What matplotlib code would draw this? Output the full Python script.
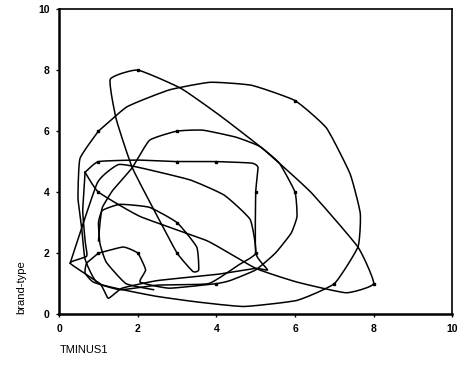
import numpy as np
import matplotlib
matplotlib.use("Agg")
import matplotlib.pyplot as plt

plt.rcParams['font.family'] = 'Liberation Sans'

# path pieces (TMINUS1, brand-type)
outer_x = [1, 1.73, 2.8, 3.84, 4.9, 6, 6.8, 7.4, 7.66, 7.6, 7, 6.05, 4.7, 3.5, 2.4, 1.0, 0.66, 0.58, 0.48, 0.53, 1]
outer_y = [6, 6.8, 7.35, 7.6, 7.5, 7, 6.1, 4.6, 3.3, 2.2, 1, 0.45, 0.25, 0.4, 0.6, 1.0, 1.8, 2.75, 3.8, 5.1, 6]

diag_x = [0.66, 1, 2.06, 3.77, 5.0, 6.05, 7.3, 8, 7.6, 6.4, 5.2, 4.1, 3.1, 2, 1.3, 1.45, 1.86, 2.5, 3, 3.4, 3.55, 3.5, 3, 2.3, 1.55, 1.1, 1, 1.04, 1.2, 1.7, 2.4]
diag_y = [4.65, 4, 3.2, 2.4, 1.5, 1.05, 0.7, 1, 2.2, 4.0, 5.4, 6.5, 7.4, 8, 7.7, 6.4, 4.8, 3.2, 2, 1.4, 1.45, 2.2, 3, 3.5, 3.6, 3.4, 3, 2.3, 1.7, 1.0, 0.8]

rect_x = [0.66, 0.6, 0.66, 0.7, 0.28, 1.04, 1.25, 1.6, 2.5, 4, 5, 5.3, 5, 5, 5.06, 4.9, 4, 3, 2, 1, 0.66]
rect_y = [4.65, 3.4, 2.4, 1.9, 1.67, 1.0, 0.52, 0.85, 1.1, 1.3, 1.5, 1.45, 2, 4, 4.8, 4.95, 5, 5, 5.05, 5, 4.65]

mid_x = [1.0, 1.63, 2, 2.2, 2.06, 2.8, 4, 4.35, 5.0, 5.5, 5.9, 6.05, 6, 5.6, 5.1, 4.5, 3.66, 3, 2.3, 1.86, 1.37, 1.1, 1.04, 1.0]
mid_y = [2, 2.2, 2, 1.45, 1.05, 0.85, 1, 1.1, 1.45, 2.0, 2.65, 3.2, 4, 4.95, 5.5, 5.8, 6.03, 6, 5.7, 4.8, 4.07, 3.5, 3.0, 2.4]

loop_x = [1.0, 0.7, 0.66, 0.87, 1.55, 2.5, 3.8, 4.55, 5, 4.86, 4.2, 3.33, 2.06, 1.5, 0.97, 0.28]
loop_y = [2, 1.67, 1.35, 1.05, 0.8, 0.95, 1.0, 1.6, 2, 3.1, 3.9, 4.4, 4.8, 4.9, 4.3, 1.67]

marker_x = [2, 1, 3, 6, 1, 3, 4, 5, 6, 1, 3, 3, 5, 1, 2, 4, 7, 8]
marker_y = [8, 6, 6, 7, 5, 5, 5, 4, 4, 4, 3, 2, 2, 2, 2, 1, 1, 1]


def smooth(xs, ys, n=12, tension=0.22):
    # cardinal spline through the waypoints, kept loose so corners stay visible
    p = np.column_stack([xs, ys]).astype(float)
    p = np.vstack([p[0], p, p[-1]])
    out = []
    t = np.linspace(0, 1, n, endpoint=False)[:, None]
    h00 = 2 * t ** 3 - 3 * t ** 2 + 1
    h10 = t ** 3 - 2 * t ** 2 + t
    h01 = -2 * t ** 3 + 3 * t ** 2
    h11 = t ** 3 - t ** 2
    for i in range(1, len(p) - 2):
        p0, p1, p2, p3 = p[i - 1], p[i], p[i + 1], p[i + 2]
        m1 = tension * (p2 - p0)
        m2 = tension * (p3 - p1)
        out.append(h00 * p1 + h10 * m1 + h01 * p2 + h11 * m2)
    out.append(p[-2][None, :])
    out = np.vstack(out)
    return out[:, 0], out[:, 1]


fig = plt.figure(figsize=(4.62, 3.78), dpi=100)
ax = fig.add_axes([0.128, 0.169, 0.851, 0.807])

for xs, ys in [(outer_x, outer_y), (diag_x, diag_y), (rect_x, rect_y), (mid_x, mid_y), (loop_x, loop_y)]:
    sx, sy = smooth(xs, ys)
    ax.plot(sx, sy, color='black', lw=1.1, solid_joinstyle='round')

ax.plot(marker_x, marker_y, ls='none', marker='s', ms=1.8, color='black')

ax.set_xlim(0, 10)
ax.set_ylim(0, 10)
ax.set_xticks([0, 2, 4, 6, 8, 10])
ax.set_yticks([0, 2, 4, 6, 8, 10])
ax.tick_params(labelsize=7.5, length=2, width=1, direction='out', pad=5)
for lab in ax.get_xticklabels() + ax.get_yticklabels():
    lab.set_fontweight('bold')
for side in ['left', 'bottom']:
    ax.spines[side].set_linewidth(1.8)
for side in ['top', 'right']:
    ax.spines[side].set_linewidth(1.2)

fig.text(0.13, 0.075, "TMINUS1", fontsize=8, ha='left', va='center')
fig.text(0.045, 0.17, "brand-type", fontsize=8, rotation=90, ha='center', va='bottom')

plt.savefig("out.png", dpi=100)
plt.close()
